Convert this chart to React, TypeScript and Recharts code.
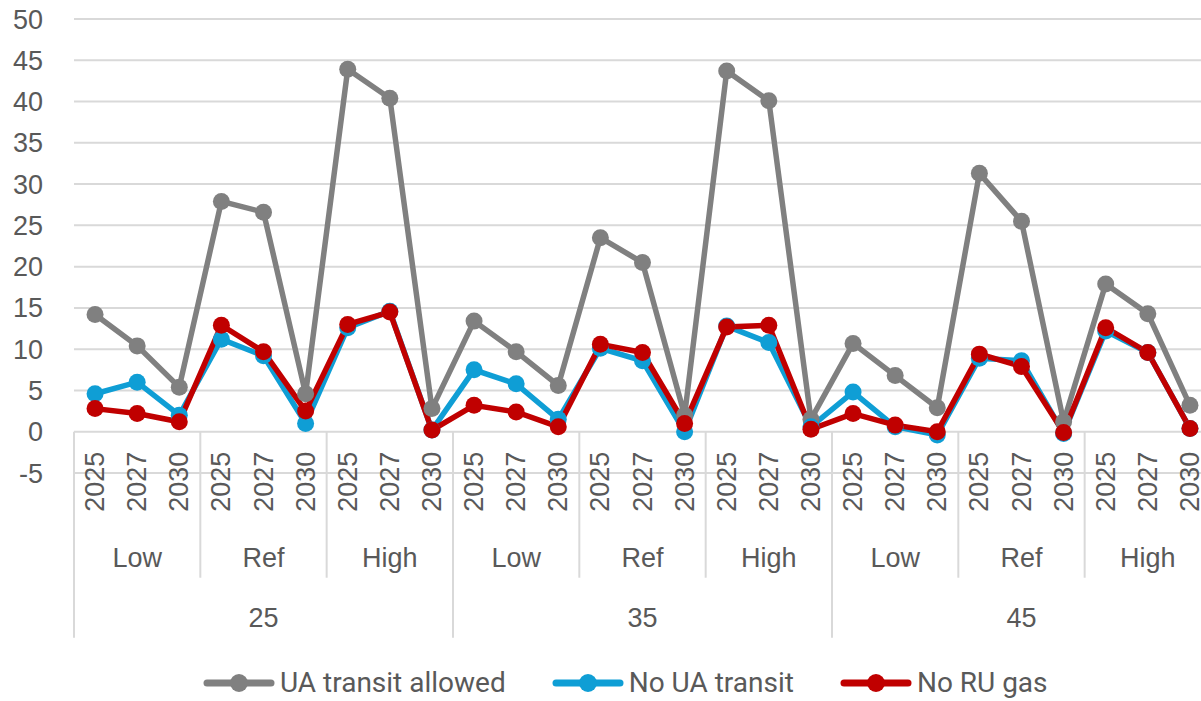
import { CartesianGrid, Line, LineChart, XAxis, YAxis } from 'recharts'

// category levels: price level > scenario > year
const prices = ['25', '35', '45']
const scenarios = ['Low', 'Ref', 'High']
const years = ['2025', '2027', '2030']

const uaTransitAllowed = [
  14.2, 10.4, 5.4, 27.9, 26.6, 4.6, 43.9, 40.4, 2.8,
  13.4, 9.7, 5.6, 23.5, 20.5, 2.0, 43.7, 40.1, 1.5,
  10.7, 6.8, 2.9, 31.3, 25.5, 1.2, 17.9, 14.3, 3.2,
]
const noUaTransit = [
  4.6, 6.0, 2.0, 11.2, 9.2, 1.0, 12.6, 14.6, 0.2,
  7.5, 5.8, 1.5, 10.1, 8.6, 0.0, 12.8, 10.8, 0.6,
  4.8, 0.6, -0.4, 8.9, 8.6, -0.2, 12.2, 9.6, 0.4,
]
const noRuGas = [
  2.8, 2.2, 1.2, 12.9, 9.7, 2.5, 13.0, 14.5, 0.2,
  3.2, 2.4, 0.6, 10.6, 9.6, 1.0, 12.7, 12.9, 0.3,
  2.2, 0.8, 0.0, 9.4, 7.9, -0.1, 12.6, 9.6, 0.4,
]

const yTicks = [-5, 0, 5, 10, 15, 20, 25, 30, 35, 40, 45, 50]

const series = [
  { key: 'uaTransitAllowed', name: 'UA transit allowed', color: '#808080', values: uaTransitAllowed },
  { key: 'noUaTransit', name: 'No UA transit', color: '#0f9ed5', values: noUaTransit },
  { key: 'noRuGas', name: 'No RU gas', color: '#c00000', values: noRuGas },
]

const rows = prices.flatMap((price) =>
  scenarios.flatMap((scenario) =>
    years.map((year) => ({ price, scenario, year, id: `${price}-${scenario}-${year}` })),
  ),
).map((row, i) => {
  const out: Record<string, string | number> = { ...row }
  series.forEach((s) => {
    out[s.key] = s.values[i]
  })
  return out
})

const W = 1215
const H = 701
const M = { top: 19, right: 4, bottom: 0, left: 0 }
const Y_AXIS_W = 74
const X_AXIS_H = 228
const PLOT_W = W - M.left - M.right - Y_AXIS_W
const PLOT_H = H - M.top - M.bottom - X_AXIS_H
const BAND = PLOT_W / rows.length
// distance from the bottom of the plot (-5) up to the zero line
const ZERO_LIFT = (PLOT_H * 5) / 55

const TEXT = '#595959'
const RULE = '#d9d9d9'
const AXIS_FONT = '"Liberation Sans", Arial, sans-serif'

function CategoryTick(props: any) {
  const { x, y, index, payload } = props
  const row = rows[index] ?? rows[payload?.index ?? 0]
  const zeroY = y - ZERO_LIFT
  const left = x - BAND / 2
  const parts = []

  parts.push(
    <text
      key="yr"
      transform={`translate(${x},${zeroY + 20}) rotate(-90)`}
      textAnchor="end"
      dominantBaseline="central"
      fill={TEXT}
      fontSize={27}
      fontFamily={AXIS_FONT}
    >
      {row.year}
    </text>,
  )

  if (index % 3 === 0) {
    const long = index % 9 === 0
    parts.push(
      <line key="sep" x1={left} x2={left} y1={zeroY} y2={zeroY + (long ? 206 : 146)} stroke={RULE} strokeWidth={2} />,
    )
  }
  if (index % 3 === 1) {
    parts.push(
      <text key="sc" x={x} y={zeroY + 126} textAnchor="middle" dominantBaseline="central" fill={TEXT} fontSize={27} fontFamily={AXIS_FONT}>
        {row.scenario}
      </text>,
    )
  }
  if (index % 9 === 4) {
    parts.push(
      <text key="pr" x={x} y={zeroY + 186} textAnchor="middle" dominantBaseline="central" fill={TEXT} fontSize={27} fontFamily={AXIS_FONT}>
        {row.price}
      </text>,
    )
  }
  return <g>{parts}</g>
}

function LegendRow() {
  return (
    <div
      style={{
        position: 'absolute',
        left: 203,
        top: 666,
        display: 'flex',
        alignItems: 'center',
        gap: 46,
        fontFamily: 'Roboto, sans-serif',
        fontSize: 28,
        lineHeight: '34px',
        color: TEXT,
        whiteSpace: 'nowrap',
      }}
    >
      {series.map((s) => (
        <div key={s.key} style={{ display: 'flex', alignItems: 'center' }}>
          <svg width={72} height={22} style={{ display: 'block' }}>
            <line x1={4} x2={68} y1={11} y2={11} stroke={s.color} strokeWidth={7} strokeLinecap="round" />
            <circle cx={36} cy={11} r={9} fill={s.color} />
          </svg>
          <span style={{ marginLeft: 5 }}>{s.name}</span>
        </div>
      ))}
    </div>
  )
}

export default function App() {
  return (
    <div style={{ position: 'fixed', left: 0, top: 0, width: 1201, height: 701, overflow: 'hidden', background: '#fff' }}>
      <LineChart width={W} height={H} data={rows} margin={M}>
        <CartesianGrid vertical={false} stroke={RULE} strokeWidth={2} />
        <XAxis
          dataKey="id"
          interval={0}
          height={X_AXIS_H}
          padding={{ left: BAND / 2, right: BAND / 2 }}
          axisLine={false}
          tickLine={false}
          tickSize={0}
          tickMargin={0}
          tick={<CategoryTick />}
        />
        <YAxis
          width={Y_AXIS_W}
          domain={[-5, 50]}
          ticks={yTicks}
          interval={0}
          axisLine={false}
          tickLine={false}
          tickSize={0}
          tickMargin={31}
          tick={{ fill: TEXT, fontSize: 27, fontFamily: AXIS_FONT }}
        />
        {series.map((s) => (
          <Line
            key={s.key}
            dataKey={s.key}
            name={s.name}
            stroke={s.color}
            strokeWidth={5.5}
            dot={{ r: 8.5, fill: s.color, stroke: 'none' }}
            activeDot={false}
            isAnimationActive={false}
          />
        ))}
      </LineChart>
      <LegendRow />
    </div>
  )
}
